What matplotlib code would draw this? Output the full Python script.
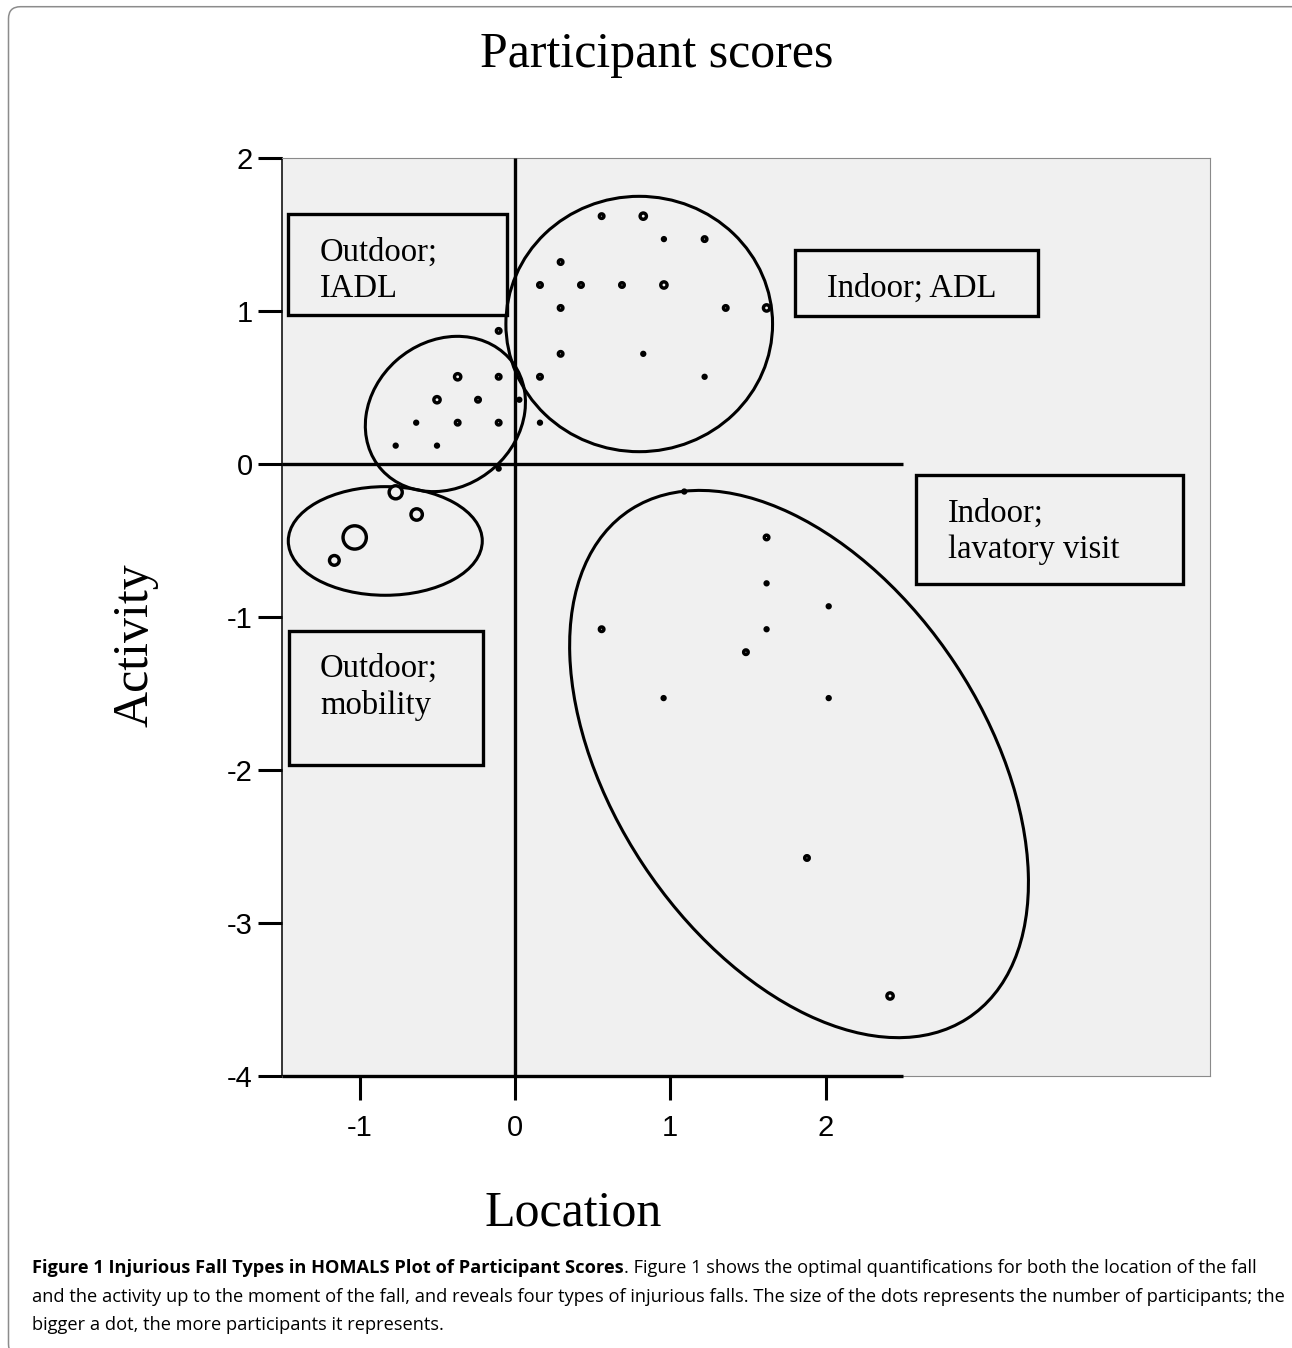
import numpy as np
import matplotlib
matplotlib.use("Agg")
import matplotlib.pyplot as plt
from matplotlib.patches import Ellipse, Rectangle, FancyBboxPatch
from matplotlib.transforms import IdentityTransform

# HOMALS object scores, one dot per score pattern
location = [0.558, 0.826, 0.959, 1.221, 0.294, 0.161, 0.425, 0.689, 0.959, 0.294,
            1.357, 1.620, -0.105, 0.294, 0.826, 0.161, 1.221, 0.028, 0.161,
            -0.369, -0.105, -0.502, -0.238, -0.636, -0.369, -0.105, -0.768, -0.502, -0.105,
            -0.768, -0.633, -1.032, -1.163,
            1.090, 1.620, 1.620, 2.020, 0.558, 1.620, 1.487, 0.957, 2.020, 1.880, 2.415]
activity = [1.62, 1.62, 1.47, 1.47, 1.32, 1.17, 1.17, 1.17, 1.17, 1.02,
            1.02, 1.02, 0.87, 0.72, 0.72, 0.57, 0.57, 0.42, 0.27,
            0.57, 0.57, 0.42, 0.42, 0.27, 0.27, 0.27, 0.12, 0.12, -0.03,
            -0.185, -0.33, -0.48, -0.63,
            -0.18, -0.48, -0.78, -0.93, -1.08, -1.08, -1.23, -1.53, -1.53, -2.575, -3.477]
# number of participants behind each dot
participants = [2, 3, 1, 2, 2, 2, 2, 2, 3, 2,
                2, 3, 2, 2, 1, 2, 1, 1, 1,
                3, 2, 3, 2, 1, 2, 2, 1, 1, 1,
                7, 6, 13, 5,
                1, 2, 1, 1, 2, 1, 2, 1, 1, 2, 3]

x_ticks = [-1, 0, 1, 2]
y_ticks = [2, 1, 0, -1, -2, -3, -4]

# fall types drawn around the clusters: centre, width, height, angle
type_cx = [0.800, -0.448, -0.835, 1.829]
type_cy = [0.915, 0.327, -0.503, -1.961]
type_w = [1.717, 1.098, 1.249, 3.97]
type_h = [1.669, 0.942, 0.710, 2.40]
type_angle = [0, 42, 0, -57]

type_labels = ["Outdoor;\nIADL", "Indoor; ADL", "Indoor;\nlavatory visit", "Outdoor;\nmobility"]
# label boxes (x0, x1, y_bottom, y_top) and first text line (x, baseline)
box_x0 = [-1.460, 1.803, 2.580, -1.455]
box_x1 = [-0.053, 3.366, 4.299, -0.206]
box_y0 = [0.974, 0.969, -0.784, -1.967]
box_y1 = [1.634, 1.399, -0.072, -1.092]
text_x = [-1.256, 2.007, 2.786, -1.256]
text_y = [1.329, 1.093, -0.377, -1.392]

caption_bold = "Figure 1 Injurious Fall Types in HOMALS Plot of Participant Scores"
caption_lines = [
    ". Figure 1 shows the optimal quantifications for both the location of the fall",
    "and the activity up to the moment of the fall, and reveals four types of injurious falls. "
    "The size of the dots represents the number of participants; the",
    "bigger a dot, the more participants it represents.",
]

W, H = 1292, 1348
BG = "#f0f0f0"
SERIF = "Liberation Serif"
SANS = "Liberation Sans"
CAP = "Open Sans"


def main():
    fig = plt.figure(figsize=(W / 100, H / 100), dpi=100)
    ax = fig.add_axes([282 / W, 1 - 1076 / H, (1210 - 282) / W, (1076 - 158) / H])
    ax.set_facecolor(BG)
    ax.set_xlim(-1.5, 4.475)
    ax.set_ylim(-4, 2)

    for side in ["top", "right", "bottom"]:
        ax.spines[side].set_color("#8a8a8a")
        ax.spines[side].set_linewidth(0.8)
    ax.spines["left"].set_color("black")
    ax.spines["left"].set_linewidth(1.1)

    # origin lines and the dark part of the x axis
    ax.hlines([0, -4], -1.5, 2.5, color="black", lw=2.4, zorder=3, clip_on=False)
    ax.vlines(0, -4, 2, color="black", lw=2.4, zorder=3)

    ax.set_xticks(x_ticks)
    ax.set_yticks(y_ticks)
    ax.set_xticklabels([str(t) for t in x_ticks], family=SANS, fontsize=21)
    ax.set_yticklabels([str(t) for t in y_ticks], family=SANS, fontsize=21)
    ax.tick_params(axis="both", length=17, width=2.2, color="black", direction="out")
    ax.tick_params(axis="x", pad=10)
    ax.tick_params(axis="y", pad=4)

    # label boxes
    for i in range(len(type_labels)):
        ax.add_patch(Rectangle((box_x0[i], box_y0[i]), box_x1[i] - box_x0[i], box_y1[i] - box_y0[i],
                               facecolor=BG, edgecolor="black", lw=2.4, zorder=2))
        for j, line in enumerate(type_labels[i].split("\n")):
            ax.annotate(line, xy=(text_x[i], text_y[i]), xytext=(0, -26.4 * j),
                        textcoords="offset points", ha="left", va="baseline",
                        family=SERIF, fontsize=23.5, zorder=4)

    for i in range(len(type_cx)):
        ax.add_patch(Ellipse((type_cx[i], type_cy[i]), type_w[i], type_h[i], angle=type_angle[i],
                             fill=False, edgecolor="black", lw=2.2, zorder=4))

    # dot size grows with the number of participants
    lw_px = 3.4
    d_px = 4.6 + 1.7 * np.array(participants)
    sizes = ((d_px - lw_px) * 0.72) ** 2
    ax.scatter(location, activity, s=sizes, facecolor=BG, edgecolor="black",
               linewidths=lw_px * 0.72, zorder=5)

    fig.text(657 / W, 1 - 67 / H, "Participant scores", ha="center", va="baseline",
             family=SERIF, fontsize=36)
    fig.text(573 / W, 1 - 1226 / H, "Location", ha="center", va="baseline",
             family=SERIF, fontsize=36)
    fig.text(135 / W, 1 - 645 / H, "Activity", ha="center", va="center", rotation=90,
             family=SERIF, fontsize=36)

    # caption, size chosen so the long line fills the column
    probe = fig.text(0, 0, caption_lines[1], fontsize=12, family=CAP)
    fig.canvas.draw()
    cap_fs = 12 * 1246 / probe.get_window_extent().width
    probe.remove()

    x0 = 32 / W
    baselines = [1273, 1302, 1330]
    bold = fig.text(x0, 1 - baselines[0] / H, caption_bold, fontweight="bold",
                    family=CAP, fontsize=cap_fs, va="baseline")
    fig.canvas.draw()
    bb = bold.get_window_extent()
    fig.text(bb.x1 / W, 1 - baselines[0] / H, caption_lines[0], family=CAP,
             fontsize=cap_fs, va="baseline")
    for k in [1, 2]:
        fig.text(x0, 1 - baselines[k] / H, caption_lines[k], family=CAP,
                 fontsize=cap_fs, va="baseline")

    # page frame
    frame = FancyBboxPatch((8.5, -8), 1300, H - 6.7 + 8, boxstyle="round,pad=0,rounding_size=12",
                           transform=IdentityTransform(), facecolor="none",
                           edgecolor="#8c8c8c", lw=1.1)
    fig.add_artist(frame)

    fig.savefig("out.png", dpi=100)


if __name__ == "__main__":
    main()
